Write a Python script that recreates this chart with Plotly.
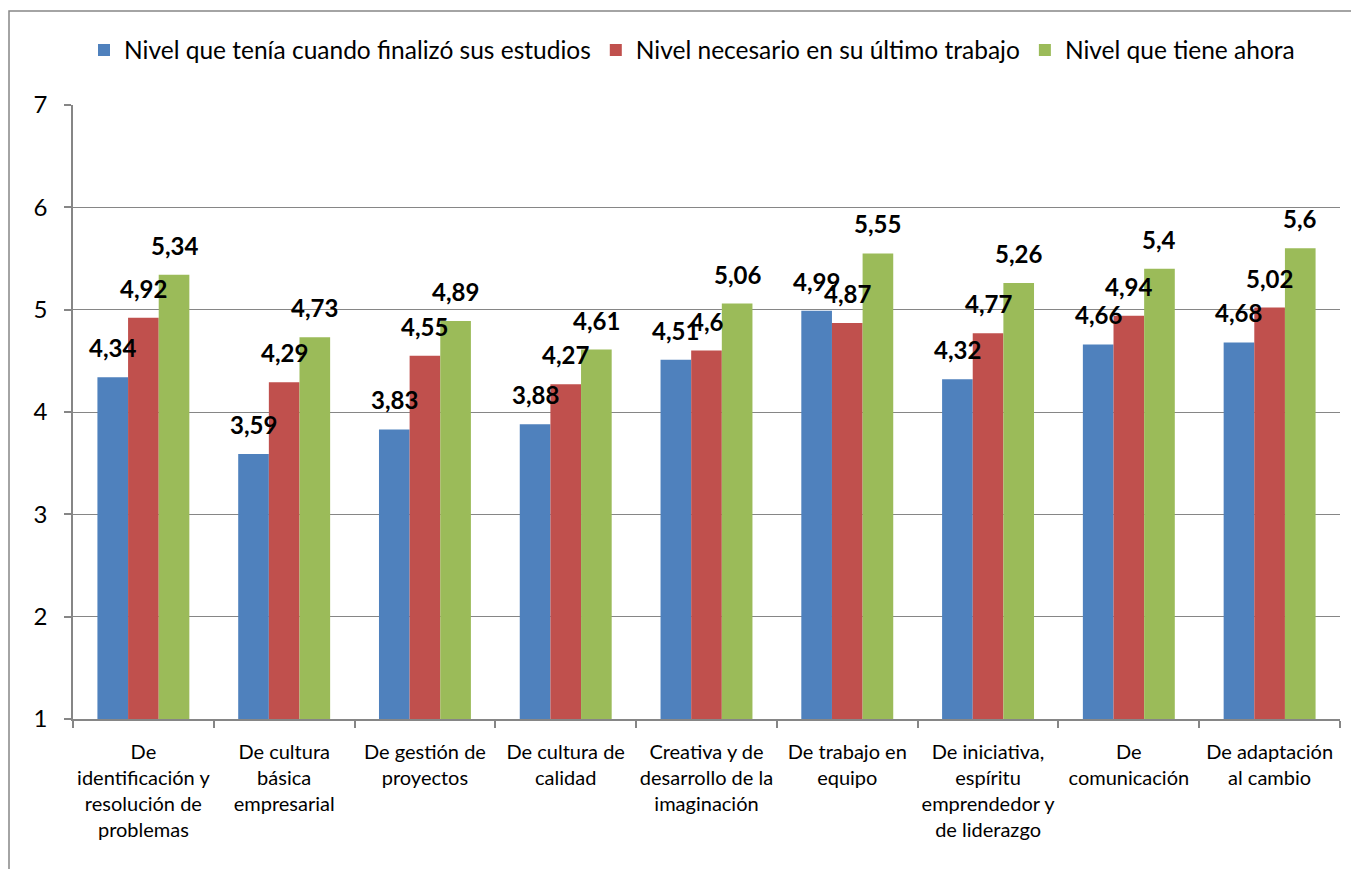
import plotly.graph_objects as go

categories = [
    "De<br>identificación y<br>resolución de<br>problemas",
    "De cultura<br>básica<br>empresarial",
    "De gestión de<br>proyectos",
    "De cultura de<br>calidad",
    "Creativa y de<br>desarrollo de la<br>imaginación",
    "De trabajo en<br>equipo",
    "De iniciativa,<br>espíritu<br>emprendedor y<br>de liderazgo",
    "De<br>comunicación",
    "De adaptación<br>al cambio",
]
series_names = [
    "Nivel que tenía cuando finalizó sus estudios",
    "Nivel necesario en su último trabajo",
    "Nivel que tiene ahora",
]
nivel_finalizo = [4.34, 3.59, 3.83, 3.88, 4.51, 4.99, 4.32, 4.66, 4.68]
nivel_necesario = [4.92, 4.29, 4.55, 4.27, 4.6, 4.87, 4.77, 4.94, 5.02]
nivel_ahora = [5.34, 4.73, 4.89, 4.61, 5.06, 5.55, 5.26, 5.4, 5.6]
colors = ["#4F81BD", "#C0504D", "#9BBB59"]
y_ticks = [1, 2, 3, 4, 5, 6, 7]

FONT = "Lato, Calibri, Carlito, sans-serif"
BARGAP = 0.347

def fmt(v):
    return str(v).replace(".", ",")

# page has an 8px body margin; work in screenshot pixels and offset
OFF = 8
W, H = 1359 - OFF, 869 - OFF
L, R, T, B = 73 - OFF, 1340 - OFF, 105 - OFF, 719 - OFF
pw, ph = R - L, B - T

def px_x(x):
    return (x - OFF - L) / pw

def px_y(y):
    return (B - (y - OFF)) / ph

all_series = [nivel_finalizo, nivel_necesario, nivel_ahora]

fig = go.Figure()
for name, vals, col in zip(series_names, all_series, colors):
    fig.add_trace(go.Bar(
        x=categories, y=vals, name=name, marker_color=col, marker_line_width=0,
    ))

# data labels drawn above all bars, centred on each bar
bar_px = pw / len(categories) * (1 - BARGAP) / len(all_series)
annotations = []
for si, vals in enumerate(all_series):
    for cat, v in zip(categories, vals):
        annotations.append(dict(
            x=cat, y=v, xref="x", yref="y", text="<b>" + fmt(v) + "</b>",
            showarrow=False, xanchor="center", yanchor="bottom",
            xshift=(si - 1) * bar_px, yshift=13,
            font=dict(family=FONT, size=24, color="black"),
        ))

fig.update_layout(
    width=W, height=H,
    margin=dict(l=L, r=W - R, t=T, b=H - B),
    paper_bgcolor="white", plot_bgcolor="white",
    barmode="group", bargap=BARGAP, bargroupgap=0,
    font=dict(family=FONT, color="black"),
    showlegend=True,
    legend=dict(orientation="h", x=px_x(692), xanchor="center", y=px_y(50), yanchor="middle",
                font=dict(family=FONT, size=24.5, color="black"),
                traceorder="normal"),
    xaxis=dict(showline=True, linecolor="#868686", linewidth=1.5, ticks="outside",
               tickson="boundaries", ticklen=7, tickcolor="#868686", tickwidth=1.5,
               ticklabelstandoff=14,
               tickfont=dict(family=FONT, size=20, color="black"), tickangle=0, showgrid=False),
    yaxis=dict(range=[1, 7], tickvals=y_ticks, showline=True, linecolor="#868686", linewidth=1.5,
               ticks="outside", ticklen=7, tickcolor="#868686", tickwidth=1.5,
               ticklabelstandoff=12,
               showgrid=True, gridcolor="#868686", gridwidth=1.3,
               tickfont=dict(family=FONT, size=24, color="black"), zeroline=False),
    annotations=annotations,
    shapes=[dict(type="rect", xref="paper", yref="paper",
                 x0=px_x(9), x1=px_x(1359 + 5), y0=px_y(869 + 5), y1=px_y(11),
                 line=dict(color="#868686", width=1.5), fillcolor="rgba(0,0,0,0)", layer="below")],
)

fig.write_html("out.html")
